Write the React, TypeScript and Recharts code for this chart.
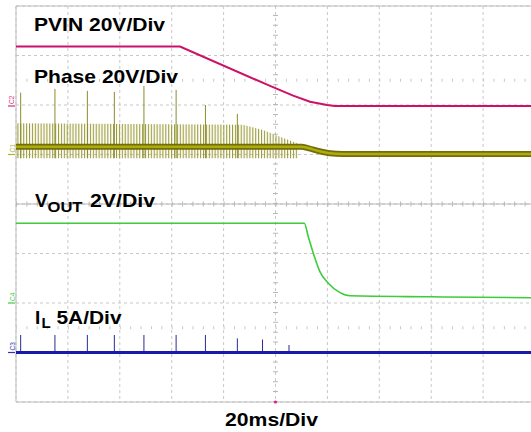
import React from 'react'
import {
  ComposedChart,
  Line,
  Area,
  XAxis,
  YAxis,
  CartesianGrid,
  ReferenceLine,
  ReferenceDot,
  ReferenceArea,
} from 'recharts'

// scope screen: 10 x 20ms horizontally, 8 divisions vertically
const timeTicks = [0, 20, 40, 60, 80, 100, 120, 140, 160, 180, 200]
const divTicks = [0, 1, 2, 3, 4, 5, 6, 7, 8]

// channel scale (units per div) and ground position (div from bottom)
const PVIN_PER_DIV = 20
const PVIN_GND = 5.98
const PHASE_PER_DIV = 20
const PHASE_GND = 5
const VOUT_PER_DIV = 2
const VOUT_GND = 2
const IL_PER_DIV = 5
const IL_GND = 1

// PVIN (V)
const pvinTime = [0, 63.2, 97.9, 106.8, 113.3, 119.9, 122.9, 200]
const pvinVolts = [24.0, 24.0, 8.1, 4.2, 1.7, 0.4, 0, 0]

// Phase: averaged trace (V)
const phaseTime = [0, 110.1, 112.5, 117, 121, 126, 200]
const phaseVolts = [3.15, 3.15, 2.6, 1.3, 0.5, 0.2, 0.2]

// Phase: switching envelope (V)
const pulseTime = [0, 87.5, 95.2, 101.7, 108.3, 108.7]
const pulseHigh = [12.6, 12.0, 9.9, 7.2, 4.5, 4.5]
const pulseLow = [-1.5, -1.5, -1.5, -1.5, -1.5, -1.5]

// burst spikes (ms)
const spikeTimes = [1.8, 15.0, 27.5, 37.9, 49.3, 61.7, 73.0, 85.3, 95.0, 105.2]
const phaseSpikeTops = [25.0, 26.5, 25.7, 25.3, 27.7, 26.1, 20.0, 16.4]
const ilSpikeTops = [1.77, 1.77, 1.77, 1.77, 1.77, 1.77, 1.77, 1.43, 1.31, 0.76]

// VOUT (V)
const voutTime = [0, 111.1, 112.64, 114.57, 117.15, 120.35, 124.86, 128.71, 159.9, 200]
const voutVolts = [3.22, 3.22, 2.68, 2.01, 1.26, 0.8, 0.42, 0.29, 0.25, 0.21]

// IL (A)
const ilTime = [0, 200]
const ilAmps = [0, 0]

const toDiv = (v: number, gnd: number, perDiv: number) => gnd + v / perDiv

const pvinData = pvinTime.map((t, i) => ({ t, y: toDiv(pvinVolts[i], PVIN_GND, PVIN_PER_DIV) }))
const phaseData = phaseTime.map((t, i) => ({ t, y: toDiv(phaseVolts[i], PHASE_GND, PHASE_PER_DIV) }))
const pulseData = pulseTime.map((t, i) => ({
  t,
  r: [toDiv(pulseLow[i], PHASE_GND, PHASE_PER_DIV), toDiv(pulseHigh[i], PHASE_GND, PHASE_PER_DIV)],
}))
const phaseSpikeData = phaseSpikeTops.flatMap((top, i) => [
  { t: spikeTimes[i], y: toDiv(-1.5, PHASE_GND, PHASE_PER_DIV) },
  { t: spikeTimes[i], y: toDiv(top, PHASE_GND, PHASE_PER_DIV) },
  { t: spikeTimes[i], y: null },
])
const voutData = voutTime.map((t, i) => ({ t, y: toDiv(voutVolts[i], VOUT_GND, VOUT_PER_DIV) }))
const ilData = ilTime.map((t, i) => ({ t, y: toDiv(ilAmps[i], IL_GND, IL_PER_DIV) }))
const ilSpikeData = ilSpikeTops.flatMap((top, i) => [
  { t: spikeTimes[i], y: toDiv(0, IL_GND, IL_PER_DIV) },
  { t: spikeTimes[i], y: toDiv(top, IL_GND, IL_PER_DIV) },
  { t: spikeTimes[i], y: null },
])

const labelFont = '"Liberation Sans", Arial, sans-serif'
const gridColor = '#c8c8c8'

// ground markers on the left edge
const markers = [
  { name: 'C2', gnd: PVIN_GND, color: '#d0307a' },
  { name: 'C1', gnd: PHASE_GND, color: '#b0b030' },
  { name: 'C4', gnd: VOUT_GND, color: '#44cc44' },
  { name: 'C3', gnd: IL_GND, color: '#3333bb' },
]

export default function App() {
  const plotTop = 6
  const divH = 49.5
  return (
    <div style={{ position: 'absolute', left: 0, top: 0, width: 531, height: 432, overflow: 'hidden', background: '#fff' }}>
      <ComposedChart width={545} height={432} margin={{ top: 6, right: 10, bottom: 30, left: 16 }}>
        <defs>
          <pattern id="phasePulses" patternUnits="userSpaceOnUse" width="2.9" height="4">
            <rect x="0" y="0" width="1.1" height="4" fill="#9a9a38" />
          </pattern>
        </defs>
        <XAxis type="number" dataKey="t" domain={[0, 200]} ticks={timeTicks} hide allowDataOverflow />
        <YAxis type="number" dataKey="y" domain={[0, 8]} ticks={divTicks} hide allowDataOverflow />
        <CartesianGrid stroke={gridColor} strokeDasharray="3 3" />
        <ReferenceArea x1={0} x2={200} y1={0} y2={8} fill="none" stroke="#bdbdbd" strokeWidth={1} />
        <ReferenceLine y={4} stroke="#b8b8b8" strokeWidth={1} />
        <ReferenceLine y={4} stroke="#b8b8b8" strokeWidth={5} strokeDasharray="1 9.38" />
        <ReferenceLine x={100} stroke="#b8b8b8" strokeWidth={5} strokeDasharray="1 8.9" />
        <ReferenceLine y={6.5} stroke={gridColor} strokeWidth={3} strokeDasharray="1 9.38" />
        <ReferenceLine y={1.5} stroke={gridColor} strokeWidth={3} strokeDasharray="1 9.38" />

        <Area data={pulseData} dataKey="r" type="linear" stroke="none" fill="url(#phasePulses)" fillOpacity={1} isAnimationActive={false} />
        <Line data={phaseSpikeData} dataKey="y" type="linear" stroke="#8c8c2c" strokeWidth={1} dot={false} isAnimationActive={false} />
        <Line data={phaseData} dataKey="y" type="monotone" stroke="#6f6f08" strokeWidth={6} dot={false} isAnimationActive={false} />
        <Line data={phaseData} dataKey="y" type="monotone" stroke="#b0aa10" strokeWidth={2.5} dot={false} isAnimationActive={false} />
        <Line data={pvinData} dataKey="y" type="linear" stroke="#cc1166" strokeWidth={2} dot={false} isAnimationActive={false} />
        <Line data={voutData} dataKey="y" type="monotone" stroke="#3ccc3c" strokeWidth={1.6} dot={false} isAnimationActive={false} />
        <Line data={ilSpikeData} dataKey="y" type="linear" stroke="#2a2a9a" strokeWidth={1} dot={false} isAnimationActive={false} />
        <Line data={ilData} dataKey="y" type="linear" stroke="#1a1aa8" strokeWidth={3} dot={false} isAnimationActive={false} />
        <ReferenceDot x={100} y={0} r={1.6} fill="#dd2277" stroke="none" />
      </ComposedChart>

      <svg width={531} height={432} style={{ position: 'absolute', left: 0, top: 0, pointerEvents: 'none' }}>
        <g fontFamily={labelFont} fontWeight="bold" fill="#000">
          <text x={34} y={31} fontSize={19} textLength={131} lengthAdjust="spacingAndGlyphs">PVIN 20V/Div</text>
          <text x={34} y={83} fontSize={19} textLength={144} lengthAdjust="spacingAndGlyphs">Phase 20V/Div</text>
          <text x={35} y={207} fontSize={19}>V</text>
          <text x={47.5} y={212} fontSize={15} textLength={35} lengthAdjust="spacingAndGlyphs">OUT</text>
          <text x={90} y={207} fontSize={19} textLength={65} lengthAdjust="spacingAndGlyphs">2V/Div</text>
          <text x={35} y={323.5} fontSize={19}>I</text>
          <text x={41.5} y={327.5} fontSize={15}>L</text>
          <text x={56.5} y={323.5} fontSize={19} textLength={65} lengthAdjust="spacingAndGlyphs">5A/Div</text>
          <text x={225} y={426} fontSize={19} textLength={93} lengthAdjust="spacingAndGlyphs">20ms/Div</text>
        </g>
        {markers.map((m) => {
          const y = plotTop + (8 - m.gnd) * divH
          return (
            <g key={m.name}>
              <line x1={8} x2={15} y1={y} y2={y} stroke={m.color} strokeWidth={1.2} />
              <text
                x={12.5}
                y={y - 2}
                fontSize={6.5}
                fontFamily={labelFont}
                fill={m.color}
                transform={`rotate(-90 12.5 ${y - 2})`}
                dy={2}
              >
                {m.name}
              </text>
            </g>
          )
        })}
      </svg>
    </div>
  )
}
